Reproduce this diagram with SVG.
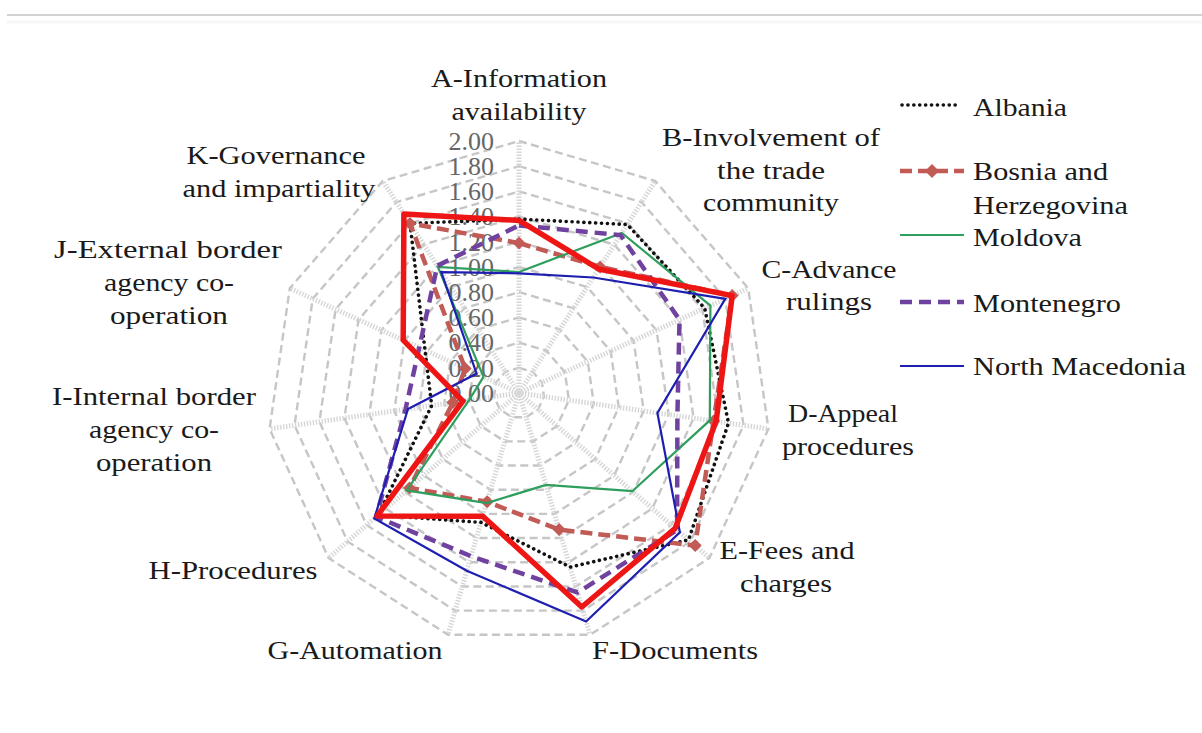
<svg xmlns="http://www.w3.org/2000/svg" width="1202" height="733" viewBox="0 0 1202 733">
<style>
.ring{fill:none;stroke:#C6C6C6;stroke-width:2.4;stroke-dasharray:8 4.5}
.spoke{stroke:#D6D6D6;stroke-width:5;stroke-dasharray:1.4 1.6}
.val{font-family:"Liberation Serif","Times New Roman",serif;font-size:26px;fill:#666;text-anchor:end}
.cat{font-family:"Liberation Serif","Times New Roman",serif;font-size:26px;fill:#1a1a1a;text-anchor:middle}
.leg{font-family:"Liberation Serif","Times New Roman",serif;font-size:26px;fill:#1a1a1a}
.alb{fill:none;stroke:#111;stroke-width:3.6;stroke-dasharray:0.1 5.8;stroke-linecap:round}
.bih{fill:none;stroke:#C25A56;stroke-width:4.5;stroke-dasharray:12 6}
.mda{fill:none;stroke:#2E9E5C;stroke-width:2.2}
.mne{fill:none;stroke:#7042A0;stroke-width:4.5;stroke-dasharray:12 7}
.mkd{fill:none;stroke:#1E1EB0;stroke-width:2.2}
.red{fill:none;stroke:#EE1515;stroke-width:5.5;stroke-linejoin:round}
</style>
<defs>
<marker id="dia" markerUnits="userSpaceOnUse" markerWidth="14" markerHeight="14" refX="7" refY="7" overflow="visible">
<path d="M7 0.5 L13.5 7 L7 13.5 L0.5 7 Z" fill="#C25A56"/>
</marker>
</defs>
<rect x="0" y="0" width="1202" height="733" fill="#fff"/>
<line x1="7" y1="15" x2="1202" y2="15" stroke="#D2D2D2" stroke-width="2"/>
<line x1="7" y1="22" x2="1202" y2="22" stroke="#F6F6F6" stroke-width="3"/>

<g id="grid">
<polygon class="ring" points="519,141 655.24,181.01 748.23,288.31 768.43,428.86 709.45,558.02 590,634.79 448,634.79 328.55,558.02 269.57,428.86 289.77,288.31 382.76,181.01"/>
<polygon class="ring" points="519,166.2 641.62,202.2 725.3,298.78 743.49,425.28 690.4,541.52 582.9,610.61 455.1,610.61 347.6,541.52 294.51,425.28 312.7,298.78 396.38,202.2"/>
<polygon class="ring" points="519,191.4 627.99,223.4 702.38,309.25 718.55,421.69 671.36,525.02 575.8,586.43 462.2,586.43 366.64,525.02 319.45,421.69 335.62,309.25 410.01,223.4"/>
<polygon class="ring" points="519,216.6 614.37,244.6 679.46,319.72 693.6,418.1 652.31,508.52 568.7,562.25 469.3,562.25 385.69,508.52 344.4,418.1 358.54,319.72 423.63,244.6"/>
<polygon class="ring" points="519,241.8 600.74,265.8 656.54,330.19 668.66,414.52 633.27,492.01 561.6,538.07 476.4,538.07 404.73,492.01 369.34,414.52 381.46,330.19 437.26,265.8"/>
<polygon class="ring" points="519,267 587.12,287 633.61,340.66 643.72,410.93 614.22,475.51 554.5,513.9 483.5,513.9 423.78,475.51 394.28,410.93 404.39,340.66 450.88,287"/>
<polygon class="ring" points="519,292.2 573.5,308.2 610.69,351.13 618.77,407.34 595.18,459.01 547.4,489.72 490.6,489.72 442.82,459.01 419.23,407.34 427.31,351.13 464.5,308.2"/>
<polygon class="ring" points="519,317.4 559.87,329.4 587.77,361.59 593.83,403.76 576.13,442.51 540.3,465.54 497.7,465.54 461.87,442.51 444.17,403.76 450.23,361.59 478.13,329.4"/>
<polygon class="ring" points="519,342.6 546.25,350.6 564.85,372.06 568.89,400.17 557.09,426.01 533.2,441.36 504.8,441.36 480.91,426.01 469.11,400.17 473.15,372.06 491.75,350.6"/>
<polygon class="ring" points="519,367.8 532.62,371.8 541.92,382.53 543.94,396.59 538.04,409.5 526.1,417.18 511.9,417.18 499.96,409.5 494.06,396.59 496.08,382.53 505.38,371.8"/>
<line class="spoke" x1="519" y1="393" x2="519" y2="141"/>
<line class="spoke" x1="519" y1="393" x2="655.24" y2="181.01"/>
<line class="spoke" x1="519" y1="393" x2="748.23" y2="288.31"/>
<line class="spoke" x1="519" y1="393" x2="768.43" y2="428.86"/>
<line class="spoke" x1="519" y1="393" x2="709.45" y2="558.02"/>
<line class="spoke" x1="519" y1="393" x2="590" y2="634.79"/>
<line class="spoke" x1="519" y1="393" x2="448" y2="634.79"/>
<line class="spoke" x1="519" y1="393" x2="328.55" y2="558.02"/>
<line class="spoke" x1="519" y1="393" x2="269.57" y2="428.86"/>
<line class="spoke" x1="519" y1="393" x2="289.77" y2="288.31"/>
<line class="spoke" x1="519" y1="393" x2="382.76" y2="181.01"/>
</g>

<g id="axis-values">
<text class="val" x="494" y="150">2.00</text>
<text class="val" x="494" y="175">1.80</text>
<text class="val" x="494" y="200">1.60</text>
<text class="val" x="494" y="225">1.40</text>
<text class="val" x="494" y="251">1.20</text>
<text class="val" x="494" y="276">1.00</text>
<text class="val" x="494" y="301">0.80</text>
<text class="val" x="494" y="326">0.60</text>
<text class="val" x="494" y="351">0.40</text>
<text class="val" x="494" y="377">0.20</text>
<text class="val" x="494" y="402">0.00</text>
</g>

<g id="connectors">
<polygon id="s-albania" class="alb" points="519,219.1 627.3,224.5 704.7,308.2 728.5,423.1 688.5,539.9 570.1,567.1 481,522.4 378.1,515.1 431.7,405.6 425,350.1 410,223.4"/>
<polygon id="s-bosnia" class="bih" marker-start="url(#dia)" marker-mid="url(#dia)" points="519,243.1 600.1,266.9 732.2,295.6 713.6,421 695.2,545.6 559.1,529.6 487.1,501.8 409.5,487.9 452.9,402.5 465.1,368.4 410,223.4"/>
<polygon id="s-moldova" class="mda" points="519,272 621.9,232.9 710.4,305.6 709.8,420.4 632.3,491.2 546,484.9 486.7,503 406.6,490.4 469.1,400.2 483.5,376.8 437.9,266.9"/>
<polygon id="s-montenegro" class="mne" points="519,225.4 620.5,235.1 679.5,319.7 677.4,415.8 677.1,530 577.6,592.5 471.1,556.2 376.2,516.8 405.5,409.3 419.3,347.5 437.3,265.8"/>
<polygon id="s-macedonia" class="mkd" points="519,273.3 593.3,277.5 725.3,298.8 657.4,412.9 679.9,532.4 586.1,621.5 466.8,570.7 374.3,518.4 408,409 476.6,373.6 441.3,272.2"/>
<polygon id="s-red" class="red" points="519,220.4 598.7,269 732.2,295.6 716.1,421.3 675.2,528.3 581.8,607 482.8,516.3 377.1,515.9 462.9,401.1 403.2,340.1 403.9,213.9"/>
</g>

<g id="label-A"><text class="cat" x="519" y="87" textLength="176" lengthAdjust="spacingAndGlyphs">A-Information</text><text class="cat" x="519" y="120" textLength="135" lengthAdjust="spacingAndGlyphs">availability</text></g>
<g id="label-B"><text class="cat" x="771" y="146" textLength="218" lengthAdjust="spacingAndGlyphs">B-Involvement of</text><text class="cat" x="771" y="179" textLength="108" lengthAdjust="spacingAndGlyphs">the trade</text><text class="cat" x="771" y="211" textLength="136" lengthAdjust="spacingAndGlyphs">community</text></g>
<g id="label-C"><text class="cat" x="829" y="278" textLength="135" lengthAdjust="spacingAndGlyphs">C-Advance</text><text class="cat" x="829" y="310" textLength="86" lengthAdjust="spacingAndGlyphs">rulings</text></g>
<g id="label-D"><text class="cat" x="843" y="422" textLength="110" lengthAdjust="spacingAndGlyphs">D-Appeal</text><text class="cat" x="848" y="455" textLength="132" lengthAdjust="spacingAndGlyphs">procedures</text></g>
<g id="label-E"><text class="cat" x="787" y="559" textLength="135" lengthAdjust="spacingAndGlyphs">E-Fees and</text><text class="cat" x="786" y="592" textLength="92" lengthAdjust="spacingAndGlyphs">charges</text></g>
<g id="label-F"><text class="cat" x="675" y="659" textLength="166" lengthAdjust="spacingAndGlyphs">F-Documents</text></g>
<g id="label-G"><text class="cat" x="355" y="659" textLength="175" lengthAdjust="spacingAndGlyphs">G-Automation</text></g>
<g id="label-H"><text class="cat" x="233" y="579" textLength="169" lengthAdjust="spacingAndGlyphs">H-Procedures</text></g>
<g id="label-I"><text class="cat" x="154" y="405" textLength="204" lengthAdjust="spacingAndGlyphs">I-Internal border</text><text class="cat" x="154" y="438" textLength="130" lengthAdjust="spacingAndGlyphs">agency co-</text><text class="cat" x="154" y="471" textLength="116" lengthAdjust="spacingAndGlyphs">operation</text></g>
<g id="label-J"><text class="cat" x="168" y="258" textLength="228" lengthAdjust="spacingAndGlyphs">J-External border</text><text class="cat" x="169" y="291" textLength="130" lengthAdjust="spacingAndGlyphs">agency co-</text><text class="cat" x="169" y="324" textLength="118" lengthAdjust="spacingAndGlyphs">operation</text></g>
<g id="label-K"><text class="cat" x="276" y="164" textLength="179" lengthAdjust="spacingAndGlyphs">K-Governance</text><text class="cat" x="279" y="197" textLength="193" lengthAdjust="spacingAndGlyphs">and impartiality</text></g>

<g id="legend">
<g id="leg-albania"><line class="alb" x1="902" y1="105" x2="960" y2="105"/><text class="leg" x="973" y="116" textLength="94" lengthAdjust="spacingAndGlyphs">Albania</text></g>
<g id="leg-bosnia"><line class="bih" x1="900" y1="171" x2="964" y2="171" stroke-dasharray="11 5"/><path d="M932 164 L939 171 L932 178 L925 171 Z" fill="#C25A56"/><text class="leg" x="973" y="180" textLength="135" lengthAdjust="spacingAndGlyphs">Bosnia and</text><text class="leg" x="973" y="214" textLength="155" lengthAdjust="spacingAndGlyphs">Herzegovina</text></g>
<g id="leg-moldova"><line class="mda" x1="900" y1="235" x2="964" y2="235" stroke-width="3"/><text class="leg" x="973" y="246" textLength="109" lengthAdjust="spacingAndGlyphs">Moldova</text></g>
<g id="leg-montenegro"><line class="mne" x1="900" y1="302" x2="964" y2="302" stroke-dasharray="10 5"/><text class="leg" x="973" y="312" textLength="148" lengthAdjust="spacingAndGlyphs">Montenegro</text></g>
<g id="leg-macedonia"><line class="mkd" x1="900" y1="366" x2="964" y2="366" stroke-width="3"/><text class="leg" x="973" y="375" textLength="213" lengthAdjust="spacingAndGlyphs">North Macedonia</text></g>
</g>
</svg>
